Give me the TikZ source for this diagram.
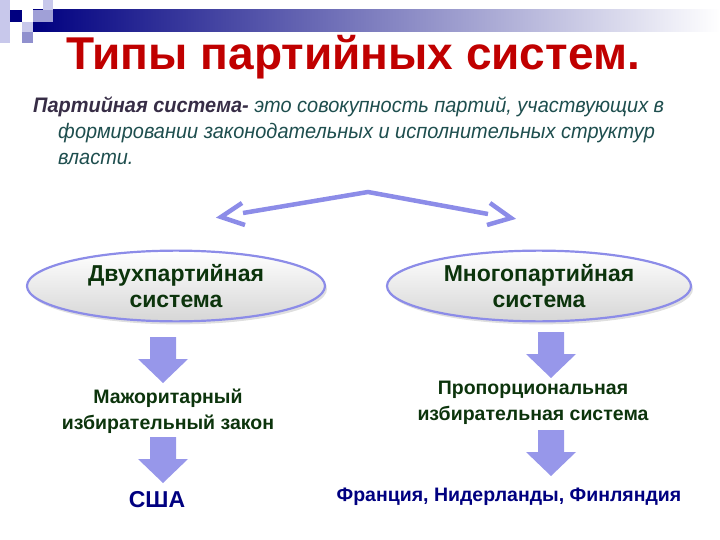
\documentclass[tikz,border=0pt]{standalone}
\usepackage{fontspec}
\setmainfont{Liberation Sans}
\usetikzlibrary{shapes.geometric,shadows}
\definecolor{titlered}{RGB}{192,0,0}
\definecolor{navy}{RGB}{0,0,128}
\definecolor{lav}{RGB}{140,140,232}
\definecolor{lavlight}{RGB}{200,200,235}
\definecolor{lavmid}{RGB}{160,160,215}
\definecolor{dgreen}{RGB}{12,52,12}
\definecolor{defteal}{RGB}{30,78,78}
\definecolor{defdark}{RGB}{55,45,70}
\tikzset{
  oval/.style={ellipse, minimum width=298pt, minimum height=70pt, draw=lav, line width=2.2pt,
    top color=white, bottom color=black!16, text=dgreen, font=\bfseries\fontsize{23}{26}\selectfont,
    align=center, drop shadow={opacity=0.25, shadow xshift=2pt, shadow yshift=-3pt}},
  lbl/.style={text=dgreen, font=\bfseries\fontsize{19.5}{26}\selectfont, align=center},
  res/.style={text=navy, font=\bfseries},
  arrowfill/.style={fill=lav!90},
  darrow/.pic={\fill[arrowfill] (-13,0) -- (13,0) -- (13,22) -- (25,22) -- (0,46) -- (-25,22) -- (-13,22) -- cycle;},
  chev/.style={draw=lav, line width=4.5pt, line join=miter},
}
\begin{document}
\begin{tikzpicture}[x=1pt,y=-1pt]
\useasboundingbox (0,0) rectangle (720,540);
% top decoration
\shade[left color=navy, right color=white] (33,10) rectangle (720,32);
\fill[lavlight] (0,0) rectangle (10,43);
\fill[lavlight] (43,0) rectangle (53,10);
\fill[navy] (10,10) rectangle (22,22);
\fill[lavmid] (33,10) rectangle (53,22);
\fill[lavlight] (22,22) rectangle (33,32);
\fill[lavmid!90!navy] (22,32) rectangle (33,43);
% title
\node[text=titlered, font=\bfseries\fontsize{46}{50}\selectfont] (title) at (353,57) {Типы партийных систем.};
% definition
\node[anchor=north west, align=left, font=\itshape\fontsize{21}{26}\selectfont\addfontfeature{FakeStretch=0.95}, text=defteal, inner sep=0pt] (def) at (33,97)
{{\bfseries\color{defdark}Партийная система-} это совокупность партий, участвующих в\\
\hspace*{25pt}формировании законодательных и исполнительных структур\\
\hspace*{25pt}власти.};
% double arrow
\coordinate (peak) at (368,192);
\coordinate (lend) at (243,213);
\coordinate (rend) at (488,214);
\draw[chev] (lend) -- (peak) -- (rend);
\draw[chev] (242,203) -- (221,217) -- (245,225);
\draw[chev] (490,203) -- (511,218) -- (487,225);
% ovals
\node[oval] (two) at (176,286) {Двухпартийная\\система};
\node[oval, minimum width=304pt] (multi) at (539,286) {Многопартийная\\система};
% arrows and labels left
\pic at (163,337) {darrow};
\node[lbl] (maj) at (168,411) {Мажоритарный\\избирательный закон};
\pic at (163,437) {darrow};
\node[res, font=\bfseries\fontsize{23}{26}\selectfont] (usa) at (157,500) {США};
% right
\pic at (551,332) {darrow};
\node[lbl] (prop) at (533,403) {Пропорциональная\\избирательная система};
\pic at (551,430) {darrow};
\node[res, font=\bfseries\fontsize{19.5}{22}\selectfont] (fr) at (509,497) {Франция, Нидерланды, Финляндия};
\end{tikzpicture}
\end{document}
